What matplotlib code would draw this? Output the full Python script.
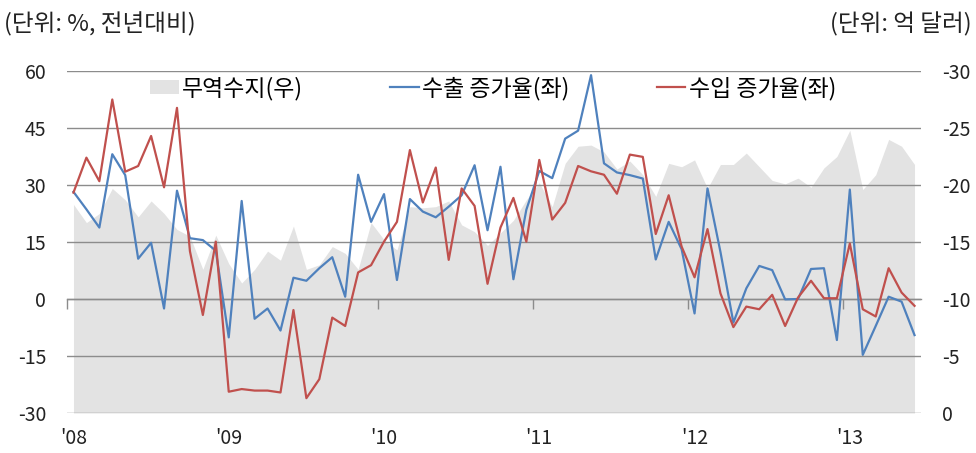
import numpy as np
import matplotlib.pyplot as plt
from matplotlib.patches import Patch
from matplotlib.lines import Line2D

plt.rcParams['font.family'] = ['Noto Sans CJK KR', 'DejaVu Sans']
plt.rcParams['axes.unicode_minus'] = False

# 월별 데이터: 2008.1 ~ 2013.6
anos = ["'08", "'09", "'10", "'11", "'12", "'13"]

# 수출 증가율(좌), %
exportaciones = [28.2, 23.6, 18.8, 38.1, 32.6, 10.6, 14.8, -2.5, 28.5, 16.0, 15.5, 12.7,
                 -10.1, 25.8, -5.2, -2.5, -8.3, 5.6, 4.8, 8.1, 11.0, 0.6, 32.7, 20.3,
                 27.6, 5.0, 26.3, 23.0, 21.5, 24.3, 27.3, 35.2, 18.1, 34.8, 5.2, 23.5,
                 33.7, 31.8, 42.2, 44.3, 58.9, 35.7, 33.3, 32.6, 31.7, 10.4, 20.3, 13.1,
                 -3.8, 29.1, 12.4, -6.2, 2.8, 8.7, 7.6, -0.1, 0.0, 7.9, 8.1, -10.8,
                 28.8, -14.7, -7.1, 0.6, -0.7, -9.5]

# 수입 증가율(좌), %
importaciones = [28.0, 37.2, 31.0, 52.5, 33.5, 35.0, 42.9, 29.4, 50.3, 12.6, -4.2, 15.1,
                 -24.4, -23.7, -24.1, -24.1, -24.6, -2.9, -26.1, -21.1, -4.9, -7.1, 7.0, 8.9,
                 15.1, 20.3, 39.2, 25.4, 34.6, 10.3, 29.1, 24.5, 4.0, 18.8, 26.6, 15.1,
                 36.6, 20.9, 25.3, 35.0, 33.6, 32.7, 27.7, 38.0, 37.4, 17.1, 27.3, 13.8,
                 5.7, 18.4, 1.5, -7.4, -2.0, -2.7, 1.1, -7.1, 0.4, 4.8, 0.2, 0.2,
                 14.6, -2.7, -4.6, 8.1, 1.7, -1.8]

# 무역수지(우), 억 달러
balanza = [-18.3, -16.7, -17.5, -19.7, -18.7, -17.2, -18.6, -17.5, -16.1, -15.5, -12.6, -15.6,
           -13.1, -11.4, -12.6, -14.2, -13.4, -16.4, -12.6, -13.0, -14.6, -14.0, -12.6, -16.7,
           -15.2, -14.3, -18.1, -18.0, -18.1, -18.6, -16.5, -15.9, -14.7, -15.8, -16.9, -18.7,
           -20.2, -18.1, -21.9, -23.4, -23.5, -22.9, -21.4, -22.1, -20.9, -19.0, -21.9, -21.6,
           -22.2, -19.7, -21.8, -21.8, -22.8, -21.6, -20.4, -20.1, -20.6, -19.8, -21.5, -22.5,
           -24.8, -19.6, -20.9, -24.0, -23.4, -21.8]

azul = '#4f81bd'
rojo = '#c0504d'
gris = '#e3e3e3'
linea_gris = '#8c8c8c'

meses = np.arange(len(exportaciones))

fig = plt.figure(figsize=(9.76, 4.53), dpi=100)
ax = fig.add_axes([67 / 976, 1 - 413 / 453, (921 - 67) / 976, (413 - 71) / 453])
ax2 = ax.twinx()

# area del eje derecho detras de las lineas
ax2.fill_between(meses, balanza, 0, color=gris, linewidth=0)
ax2.set_ylim(0, -30)
ax2.set_yticks(np.arange(0, -31, -5))
ax.set_zorder(ax2.get_zorder() + 1)
ax.patch.set_visible(False)

ax.plot(meses, exportaciones, color=azul, lw=1.6)
ax.plot(meses, importaciones, color=rojo, lw=1.6)

ax.set_xlim(-0.5, len(meses) - 0.5)
ax.set_ylim(-30, 60)
ax.set_yticks(np.arange(-30, 61, 15))
ax.yaxis.grid(True, color=linea_gris, lw=1)
ax.set_axisbelow(True)

ax.set_xticks(meses[::12])
ax.set_xticklabels(anos)
ax.tick_params(axis='x', length=0, pad=11, labelsize=14, labelcolor='#222222')
ax.tick_params(axis='y', length=0, pad=15, labelsize=14, labelcolor='#222222')
ax2.tick_params(axis='y', length=0, pad=15, labelsize=14, labelcolor='#222222')

for a in (ax, ax2):
    for s in a.spines.values():
        s.set_visible(False)

# eje horizontal en 0 con marcas entre años
sec = ax.secondary_xaxis(30 / 90)
sec.set_xticks(np.arange(-0.5, len(meses), 12))
sec.tick_params(length=7, width=1, color=linea_gris, labelbottom=False, labeltop=False)
sec.spines['bottom'].set_color(linea_gris)
sec.spines['bottom'].set_linewidth(1)

manijas = [Patch(facecolor=gris, edgecolor='none'),
           Line2D([], [], color=azul, lw=1.6),
           Line2D([], [], color=rojo, lw=1.6)]
ax.legend(manijas, ['무역수지(우)', '수출 증가율(좌)', '수입 증가율(좌)'],
          loc='center', bbox_to_anchor=(0.499, 0.95), ncol=3, frameon=False,
          fontsize=16.5, handlelength=1.25, handleheight=0.55, handletextpad=0.15,
          columnspacing=3.8)

fig.text(0.004, 0.947, '(단위: %, 전년대비)', fontsize=17, ha='left', va='center', color='#222222')
fig.text(0.996, 0.947, '(단위: 억 달러)', fontsize=17, ha='right', va='center', color='#222222')

fig.savefig('out.png', dpi=100)
